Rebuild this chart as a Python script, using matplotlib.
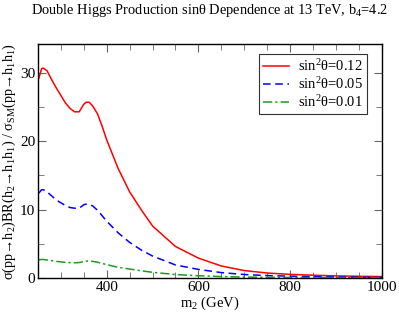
import numpy as np
import matplotlib
matplotlib.use("Agg")
import matplotlib.pyplot as plt
from matplotlib.ticker import MultipleLocator

plt.rcParams['font.family'] = ['Liberation Serif', 'DejaVu Serif']
plt.rcParams['mathtext.fontset'] = 'custom'
plt.rcParams['mathtext.rm'] = 'Liberation Serif'
plt.rcParams['mathtext.it'] = 'Liberation Serif:italic'

# m2 (GeV)
m2 = [252, 258, 262, 270, 280, 290, 300, 310, 320, 330, 340, 350, 355, 362,
      370, 380, 390, 400, 425, 450, 475, 500, 550, 600, 650, 700, 750, 800,
      850, 900, 950, 1000]
# sin^2 theta = 0.12
r012 = [29.2, 30.6, 30.7, 30.3, 29.0, 27.8, 26.7, 25.6, 24.8, 24.3, 24.3, 25.4,
        25.7, 25.7, 25.1, 24.0, 22.2, 20.2, 16.0, 12.6, 10.0, 7.6, 4.6, 2.9,
        1.75, 1.08, 0.72, 0.52, 0.40, 0.30, 0.24, 0.20]
# sin^2 theta = 0.05
r005 = [12.4, 12.9, 12.9, 12.6, 12.0, 11.4, 11.0, 10.6, 10.3, 10.2, 10.2, 10.7,
        10.8, 10.8, 10.5, 9.9, 9.1, 8.3, 6.6, 5.2, 4.1, 3.2, 1.9, 1.25,
        0.78, 0.50, 0.35, 0.25, 0.18, 0.14, 0.11, 0.09]
# sin^2 theta = 0.01
r001 = [2.65, 2.70, 2.70, 2.62, 2.52, 2.42, 2.35, 2.28, 2.24, 2.22, 2.25, 2.38,
        2.45, 2.48, 2.42, 2.30, 2.12, 1.95, 1.55, 1.30, 1.05, 0.82, 0.50, 0.32,
        0.20, 0.13, 0.09, 0.07, 0.05, 0.04, 0.03, 0.025]

fig = plt.figure(figsize=(3.99, 3.13), dpi=100)
ax = fig.add_axes([0.095, 0.112, 0.862, 0.747])

ax.plot(m2, r012, color='red', lw=1.1, label='sin$^2$θ=0.12')
ax.plot(m2, r005, color='blue', lw=1.1, ls=(0, (5, 3)), label='sin$^2$θ=0.05')
ax.plot(m2, r001, color='#1f9a1f', lw=1.1, ls=(0, (6, 2, 1.5, 2)), label='sin$^2$θ=0.01')

ax.set_xlim(250, 1000)
ax.set_ylim(0, 34.2)
ax.xaxis.set_major_locator(MultipleLocator(200))
ax.xaxis.set_minor_locator(MultipleLocator(50))
ax.yaxis.set_major_locator(MultipleLocator(10))
ax.yaxis.set_minor_locator(MultipleLocator(5))
ax.tick_params(which='both', direction='in', top=True, right=True,
               color='#666666', labelsize=11, pad=2)
ax.tick_params(which='major', length=6)
ax.tick_params(which='minor', length=4)
for s in ax.spines.values():
    s.set_linewidth(1.0)

ax.set_xlabel('m$_2$ (GeV)', fontsize=10.5, labelpad=1)
ax.set_ylabel('σ(pp→h$_2$)BR(h$_2$→h$_1$h$_1$) / σ$_{\\rm SM}$(pp→h$_1$h$_1$)',
              fontsize=10.3, labelpad=1)
ax.set_title('Double Higgs Production sinθ Dependence at 13 TeV, b$_4$=4.2',
             fontsize=10.4, pad=22)

leg = ax.legend(loc='upper right', bbox_to_anchor=(0.956, 0.957), fontsize=10.5,
                fancybox=False, framealpha=1, edgecolor='#333333',
                handlelength=1.8, borderpad=0.25, labelspacing=0.15,
                handletextpad=0.6, borderaxespad=0)
leg.get_frame().set_linewidth(0.8)

fig.savefig('out.png', dpi=100)
